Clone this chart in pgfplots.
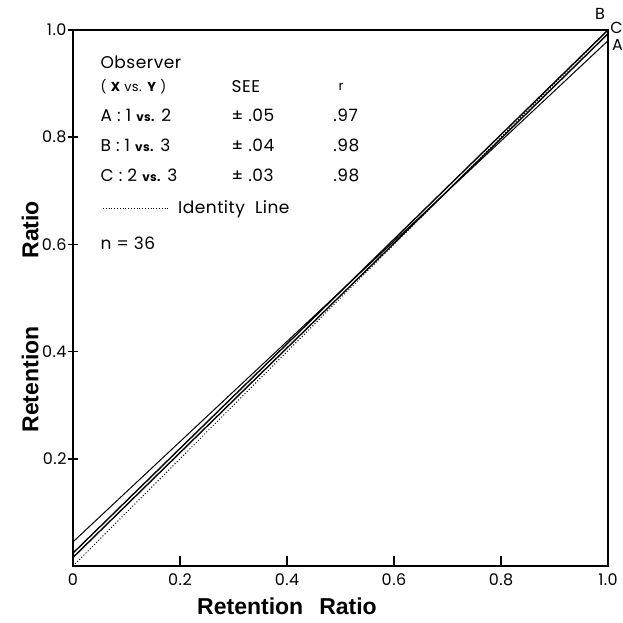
\documentclass[border=0pt]{standalone}
\usepackage{pgfplots}
\pgfplotsset{compat=1.18}
\usepackage{fontspec}
\setmainfont{Poppins}[LetterSpace=3]
\newfontfamily\labelfont{Liberation Sans}
\newcommand{\vs}{{\fontsize{12}{14}\selectfont\bfseries vs.}}
\newcommand{\tl}[1]{\mbox{\fontsize{16}{18}\selectfont #1}}
\begin{document}
\begin{tikzpicture}
\useasboundingbox (-73pt,-56pt) rectangle (550pt,566pt);
\begin{axis}[
  scale only axis, width=535pt, height=536pt,
  at={(0,0)}, anchor=south west,
  xmin=0, xmax=1, ymin=0, ymax=1,
  axis line style={line width=1.6pt},
  xtick pos=bottom, ytick pos=left,
  every tick/.style={black, line width=1.5pt},
  xtick align=inside, ytick align=center, major tick length=10pt,
  xtick={0,0.2,0.4,0.6,0.8,1.0},
  ytick={0.2,0.4,0.6,0.8,1.0},
  xticklabels={\tl{0},\tl{0.2},\tl{0.4},\tl{0.6},\tl{0.8},\tl{1.0}},
  yticklabels={\tl{0.2},\tl{0.4},\tl{0.6},\tl{0.8},\tl{1.0}},
  xticklabel style={yshift=-4pt},
  yticklabel style={xshift=2pt},
  xlabel={\labelfont\bfseries\fontsize{23}{26}\selectfont Retention\hspace{16pt}Ratio},
  ylabel={\labelfont\bfseries\fontsize{23}{26}\selectfont Retention\hspace{68pt}Ratio},
  xlabel style={at={(axis description cs:0.40,-0.075)}, anchor=center},
  ylabel style={at={(axis description cs:-0.08,0.465)}, anchor=center, rotate=0},
  clip=false,
]
\addplot[black, line width=1.0pt] coordinates {(0,0.045) (1,0.98)};
\addplot[black, line width=1.4pt] coordinates {(0,0.024) (1,1.0)};
\addplot[black, line width=1.4pt] coordinates {(0,0.016) (1,0.993)};
\addplot[black, dotted, line width=1.0pt] coordinates {(0,0) (1,1)};
\begin{scope}[every node/.style={anchor=west, font=\fontsize{17}{19}\selectfont}]
\node at (axis cs:0.045,0.94) {Observer};
\node[font=\fontsize{13}{15}\selectfont] at (axis cs:0.045,0.894) {(\ \textbf{X} vs. \textbf{Y}\ )};
\node at (axis cs:0.29,0.894) {SEE};
\node[font=\fontsize{13}{15}\selectfont] at (axis cs:0.49,0.894) {r};
\node at (axis cs:0.045,0.841) {A : 1 \vs{} 2};
\node at (axis cs:0.045,0.784) {B : 1 \vs{} 3};
\node at (axis cs:0.045,0.729) {C : 2 \vs{} 3};
\node at (axis cs:0.29,0.841) {± .05};
\node at (axis cs:0.29,0.784) {± .04};
\node at (axis cs:0.29,0.729) {± .03};
\node at (axis cs:0.48,0.841) {.97};
\node at (axis cs:0.48,0.784) {.98};
\node at (axis cs:0.48,0.729) {.98};
\node at (axis cs:0.19,0.666) {Identity\ \ Line};
\node at (axis cs:0.045,0.603) {n = 36};
\end{scope}
\draw[dotted, line width=0.8pt] (axis cs:0.056,0.667) -- (axis cs:0.18,0.667);
\node[anchor=center, font=\fontsize{16}{18}\selectfont] at (axis cs:0.985,1.03) {B};
\node[anchor=center, font=\fontsize{16}{18}\selectfont] at (axis cs:1.016,1.003) {C};
\node[anchor=center, font=\fontsize{16}{18}\selectfont] at (axis cs:1.018,0.972) {A};
\end{axis}
\end{tikzpicture}
\end{document}
